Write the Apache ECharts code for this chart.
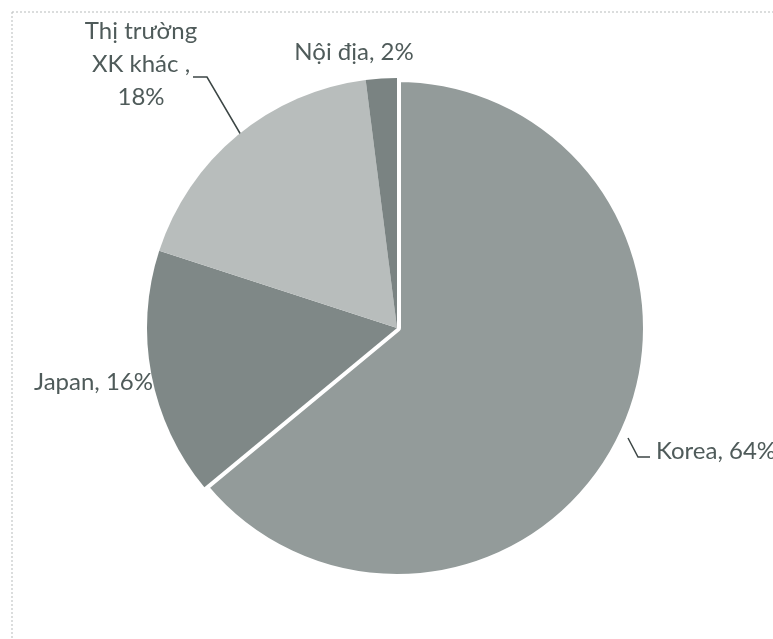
<!DOCTYPE html>
<html>
<head>
<meta charset="utf-8">
<script src="https://cdn.jsdelivr.net/npm/echarts@6/dist/echarts.min.js"></script>
<style>
  html, body { margin: 0; padding: 0; background: #fff; }
  #chart { width: 773px; height: 639px; }
</style>
</head>
<body>
<div id="chart"></div>
<script>
// thị phần tiêu thụ (%)
var markets = ['Korea', 'Japan', 'Thị trường\nXK khác ,', 'Nội địa']
var shares = [64, 16, 18, 2]
var colors = ['#939b9a', '#7f8887', '#b8bdbc', '#7a8382']

// label placement, tuned by eye against the scan
var labelPos = [
  { x: 656, y: 451, align: 'left', line: [[628, 438], [638, 457], [650, 457]] },
  { x: 153, y: 382, align: 'right', line: null },
  { x: 141, y: 64, align: 'center', line: [[241, 135], [207, 77], [193, 77]] },
  { x: 354, y: 52, align: 'center', line: null }
]

var data = markets.map(function (name, i) {
  return {
    name: name,
    value: shares[i],
    // the Korea slice is pulled out in the scan: a white rim does the job
    itemStyle: i === 0
      ? { color: colors[i], borderColor: '#fff', borderWidth: 8 }
      : { color: colors[i] },
    labelLine: { show: !!labelPos[i].line }
  }
})

var chart = echarts.init(document.getElementById('chart'))
chart.setOption({
  animation: false,
  backgroundColor: '#fff',
  graphic: [
    { type: 'line', shape: { x1: 12, y1: 12, x2: 773, y2: 12 },
      style: { stroke: '#b8bcbc', lineWidth: 1, lineDash: [2, 2] } },
    { type: 'line', shape: { x1: 12, y1: 12, x2: 12, y2: 639 },
      style: { stroke: '#b8bcbc', lineWidth: 1, lineDash: [2, 2] } }
  ],
  series: [{
    type: 'pie',
    center: [397, 328],
    radius: 250,
    startAngle: 90,
    clockwise: true,
    emphasis: { disabled: true },
    label: {
      show: true,
      overflow: 'none',
      width: 200,
      formatter: function (p) { return p.name + (p.dataIndex === 2 ? '\n' : ', ') + p.value + '%' },
      fontFamily: 'Lato',
      fontSize: 24,
      lineHeight: 33,
      color: '#4f5b5a'
    },
    labelLine: { lineStyle: { color: '#3c4645', width: 1.5 } },
    labelLayout: function (p) {
      var lp = labelPos[p.dataIndex]
      var out = { x: lp.x, y: lp.y, align: lp.align, verticalAlign: 'middle', hideOverlap: false }
      if (lp.line) out.labelLinePoints = lp.line
      return out
    },
    data: data
  }]
})
</script>
</body>
</html>
